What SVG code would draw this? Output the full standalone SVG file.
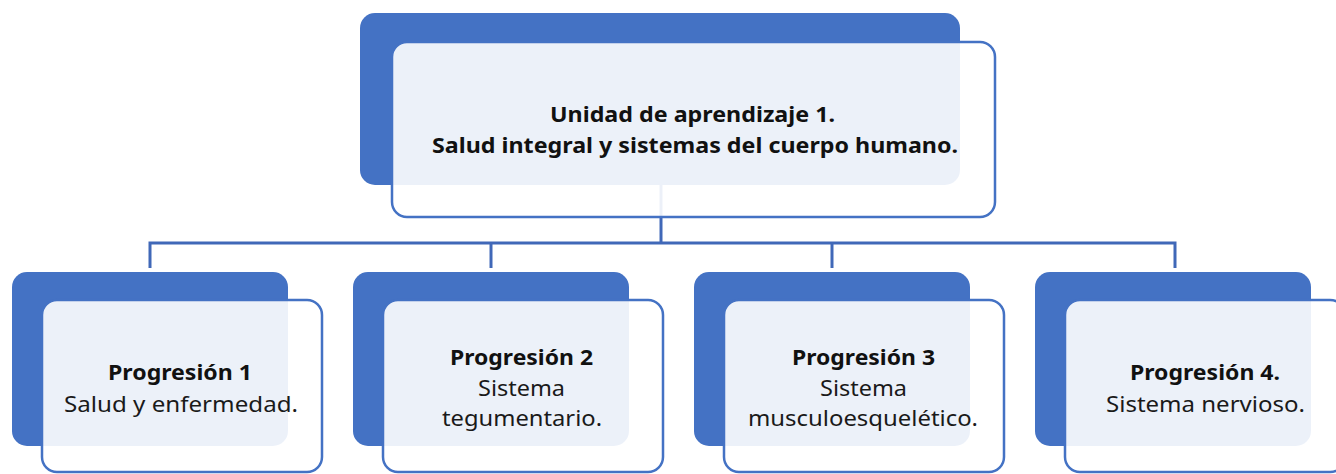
<svg xmlns="http://www.w3.org/2000/svg" width="1336" height="474" viewBox="0 0 1336 474">
  <style>
    .back { fill: #4472c4; }
    .card { fill: #ffffff; fill-opacity: 0.9; stroke: #4472c4; stroke-width: 2.5; }
    .conn { fill: none; stroke: #4068b8; stroke-width: 3; }
    text { font-family: "Noto Sans", "Open Sans", sans-serif; font-size: 22px; fill: #1a1a1a; text-anchor: middle; }
    .b { font-weight: bold; fill: #111111; }
  </style>
  <rect width="1336" height="474" fill="#ffffff"/>
  <g id="connectors">
    <path class="conn" d="M661,185 V243"/>
    <path class="conn" d="M150,268 V243 H1175 V268"/>
    <path class="conn" d="M491,243 V268"/>
    <path class="conn" d="M832,243 V268"/>
  </g>
  <g id="node-unidad">
    <rect class="back" x="360" y="13" width="600" height="172" rx="15"/>
    <rect class="card" x="392" y="42" width="603" height="175" rx="15"/>
    <text class="b" x="692.5" y="122" textLength="285" lengthAdjust="spacingAndGlyphs">Unidad de aprendizaje 1.</text>
    <text class="b" x="695" y="153" textLength="526" lengthAdjust="spacingAndGlyphs">Salud integral y sistemas del cuerpo humano.</text>
  </g>
  <g id="node-p1">
    <rect class="back" x="12" y="272" width="276" height="174" rx="15"/>
    <rect class="card" x="42" y="300" width="280" height="172" rx="15"/>
    <text class="b" x="180" y="380" textLength="144" lengthAdjust="spacingAndGlyphs">Progresión 1</text>
    <text x="181" y="412" textLength="234" lengthAdjust="spacingAndGlyphs">Salud y enfermedad.</text>
  </g>
  <g id="node-p2">
    <rect class="back" x="353" y="272" width="276" height="174" rx="15"/>
    <rect class="card" x="383" y="300" width="280" height="172" rx="15"/>
    <text class="b" x="521.5" y="365" textLength="143" lengthAdjust="spacingAndGlyphs">Progresión 2</text>
    <text x="521.5" y="396" textLength="87" lengthAdjust="spacingAndGlyphs">Sistema</text>
    <text x="522" y="426" textLength="160" lengthAdjust="spacingAndGlyphs">tegumentario.</text>
  </g>
  <g id="node-p3">
    <rect class="back" x="694" y="272" width="276" height="174" rx="15"/>
    <rect class="card" x="724" y="300" width="280" height="172" rx="15"/>
    <text class="b" x="863.5" y="365" textLength="143" lengthAdjust="spacingAndGlyphs">Progresión 3</text>
    <text x="863.5" y="396" textLength="87" lengthAdjust="spacingAndGlyphs">Sistema</text>
    <text x="863" y="426" textLength="230" lengthAdjust="spacingAndGlyphs">musculoesquelético.</text>
  </g>
  <g id="node-p4">
    <rect class="back" x="1035" y="272" width="276" height="174" rx="15"/>
    <rect class="card" x="1065" y="300" width="280" height="172" rx="15"/>
    <text class="b" x="1205" y="380" textLength="150" lengthAdjust="spacingAndGlyphs">Progresión 4.</text>
    <text x="1205.5" y="412" textLength="199" lengthAdjust="spacingAndGlyphs">Sistema nervioso.</text>
  </g>
</svg>
